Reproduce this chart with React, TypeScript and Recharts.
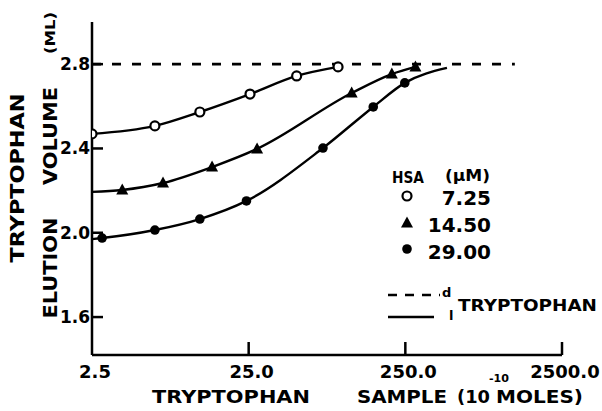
import React from "react";
import { ComposedChart, Line, Scatter, XAxis, YAxis } from "recharts";

// ---- data ----
const xTicks = [2.5, 25, 250, 2500];
const yTicks = [1.6, 2.0, 2.4, 2.8];

const circleX = [2.5, 6.3, 12.2, 25.5, 50.6, 93];
const circleY = [2.469, 2.507, 2.573, 2.658, 2.744, 2.787];

const triangleX = [3.9, 7.1, 14.6, 28.3, 113.6, 205, 290];
const triangleY = [2.203, 2.236, 2.312, 2.398, 2.663, 2.753, 2.787];

const dotX = [2.9, 6.3, 12.2, 24.2, 74.5, 156, 248];
const dotY = [1.975, 2.013, 2.065, 2.151, 2.402, 2.597, 2.711];

// curve-only extensions (no marker)
const triangleCurveStart = { x: 2.5, y: 2.194 };
const dotCurveStart = { x: 2.5, y: 1.97 };
const dotCurveEnd = { x: 461, y: 2.782 };

const dashedX = [2.5, 1250];
const dashedY = [2.8, 2.8];

const legendLabels = ["7.25", "14.50", "29.00"];

const zip = (xs: number[], ys: number[]) => xs.map((x, i) => ({ x, y: ys[i] }));

const circlePts = zip(circleX, circleY);
const trianglePts = zip(triangleX, triangleY);
const dotPts = zip(dotX, dotY);
const triangleCurve = [triangleCurveStart, ...trianglePts];
const dotCurve = [dotCurveStart, ...dotPts, dotCurveEnd];
const dashedPts = zip(dashedX, dashedY);

const FONT = "'DejaVu Sans', sans-serif";

const OpenCircle = (p: any) => (
  <circle cx={p.cx} cy={p.cy} r={4.5} fill="#fff" stroke="#000" strokeWidth={2.2} />
);
const Tri = (p: any) => (
  <polygon
    points={`${p.cx},${p.cy - 6.5} ${p.cx - 6},${p.cy + 4.5} ${p.cx + 6},${p.cy + 4.5}`}
    fill="#000"
  />
);
const Dot = (p: any) => <circle cx={p.cx} cy={p.cy} r={4.8} fill="#000" />;

const fmtX = (v: number) => (v === 2.5 ? "2.5" : v.toFixed(1));

const XTick = (p: any) => {
  const v = p.payload.value;
  return (
    <g>
      {v !== 2.5 && <line x1={p.x} x2={p.x} y1={p.y} y2={p.y - 13} stroke="#000" strokeWidth={2.5} />}
      <text x={p.x + 3} y={p.y + 23} textAnchor="middle" fontFamily={FONT} fontWeight="bold" fontSize={18} fill="#000">
        {fmtX(v)}
      </text>
    </g>
  );
};

const YTick = (p: any) => {
  const v = p.payload.value;
  return (
    <g>
      <line x1={p.x} x2={p.x + 11} y1={p.y} y2={p.y} stroke="#000" strokeWidth={2.5} />
      <text x={p.x - 2} y={p.y + 6} textAnchor="end" fontFamily={FONT} fontWeight="bold" fontSize={17} fill="#000">
        {v.toFixed(1)}
      </text>
    </g>
  );
};

const T = (props: any) => (
  <text fontFamily={FONT} fontWeight="bold" fill="#000" lengthAdjust="spacingAndGlyphs" {...props} />
);

const RotT = ({ cx, cy, children, ...rest }: any) => (
  <T
    x={cx}
    y={cy}
    textAnchor="middle"
    dominantBaseline="central"
    transform={`rotate(-90 ${cx} ${cy})`}
    {...rest}
  >
    {children}
  </T>
);

export default function App() {
  return (
    <div style={{ position: "absolute", left: 0, top: 0, width: 602, height: 411, background: "#fff" }}>
      <ComposedChart width={602} height={411} margin={{ top: 22, right: 40, bottom: 26, left: 52 }}>
        <XAxis
          dataKey="x"
          type="number"
          scale="log"
          domain={[2.5, 2500]}
          ticks={xTicks}
          allowDataOverflow
          height={30}
          tickSize={0}
          tickMargin={0}
          tickLine={false}
          tick={<XTick />}
          axisLine={{ stroke: "#000", strokeWidth: 2.5 }}
        />
        <YAxis
          dataKey="y"
          type="number"
          domain={[1.42, 3.0]}
          ticks={yTicks}
          allowDataOverflow
          width={40}
          tickSize={0}
          tickMargin={0}
          tickLine={false}
          tick={<YTick />}
          axisLine={{ stroke: "#000", strokeWidth: 2.5 }}
        />
        <Line data={dashedPts} dataKey="y" type="linear" stroke="#000" strokeWidth={2.6} strokeDasharray="9 11" dot={false} isAnimationActive={false} />
        <Line data={circlePts} dataKey="y" type="monotone" stroke="#000" strokeWidth={2.4} dot={false} isAnimationActive={false} />
        <Line data={triangleCurve} dataKey="y" type="monotone" stroke="#000" strokeWidth={2.4} dot={false} isAnimationActive={false} />
        <Line data={dotCurve} dataKey="y" type="monotone" stroke="#000" strokeWidth={2.4} dot={false} isAnimationActive={false} />
        <Scatter data={circlePts} dataKey="y" shape={<OpenCircle />} isAnimationActive={false} />
        <Scatter data={trianglePts} dataKey="y" shape={<Tri />} isAnimationActive={false} />
        <Scatter data={dotPts} dataKey="y" shape={<Dot />} isAnimationActive={false} />
      </ComposedChart>
      <svg width={602} height={411} style={{ position: "absolute", left: 0, top: 0, pointerEvents: "none" }}>
        {/* y-axis title */}
        <RotT cx={17} cy={178} fontSize={19} textLength={169}>TRYPTOPHAN</RotT>
        <RotT cx={50} cy={136} fontSize={19} textLength={98}>VOLUME</RotT>
        <RotT cx={50} cy={268} fontSize={19} textLength={101}>ELUTION</RotT>
        <RotT cx={50} cy={33} fontSize={14} textLength={42}>(ML)</RotT>
        {/* x-axis title */}
        <T x={152} y={403} fontSize={18} textLength={158}>TRYPTOPHAN</T>
        <T x={357} y={403} fontSize={18} textLength={90}>SAMPLE</T>
        <T x={457} y={403} fontSize={18} textLength={33}>(10</T>
        <T x={489} y={382} fontSize={10} textLength={20}>-10</T>
        <T x={496} y={403} fontSize={18} textLength={87}>MOLES)</T>
        {/* legend */}
        <T x={392} y={183} fontSize={15} textLength={32}>HSA</T>
        <T x={445} y={181} fontSize={16} textLength={45}>(μM)</T>
        <OpenCircle cx={407} cy={196} />
        <Tri cx={407} cy={223} />
        <Dot cx={407} cy={249} />
        {legendLabels.map((s, i) => (
          <T key={s} x={491} y={205 + i * 27} fontSize={20} textAnchor="end">
            {s}
          </T>
        ))}
        <line x1={388} x2={440} y1={295} y2={295} stroke="#000" strokeWidth={2.4} strokeDasharray="9 8" />
        <line x1={388} x2={434} y1={317} y2={317} stroke="#000" strokeWidth={2.4} />
        <T x={442} y={297} fontSize={13}>d</T>
        <T x={449} y={320} fontSize={13}>l</T>
        <T x={458} y={311} fontSize={15} textLength={139}>TRYPTOPHAN</T>
      </svg>
    </div>
  );
}
